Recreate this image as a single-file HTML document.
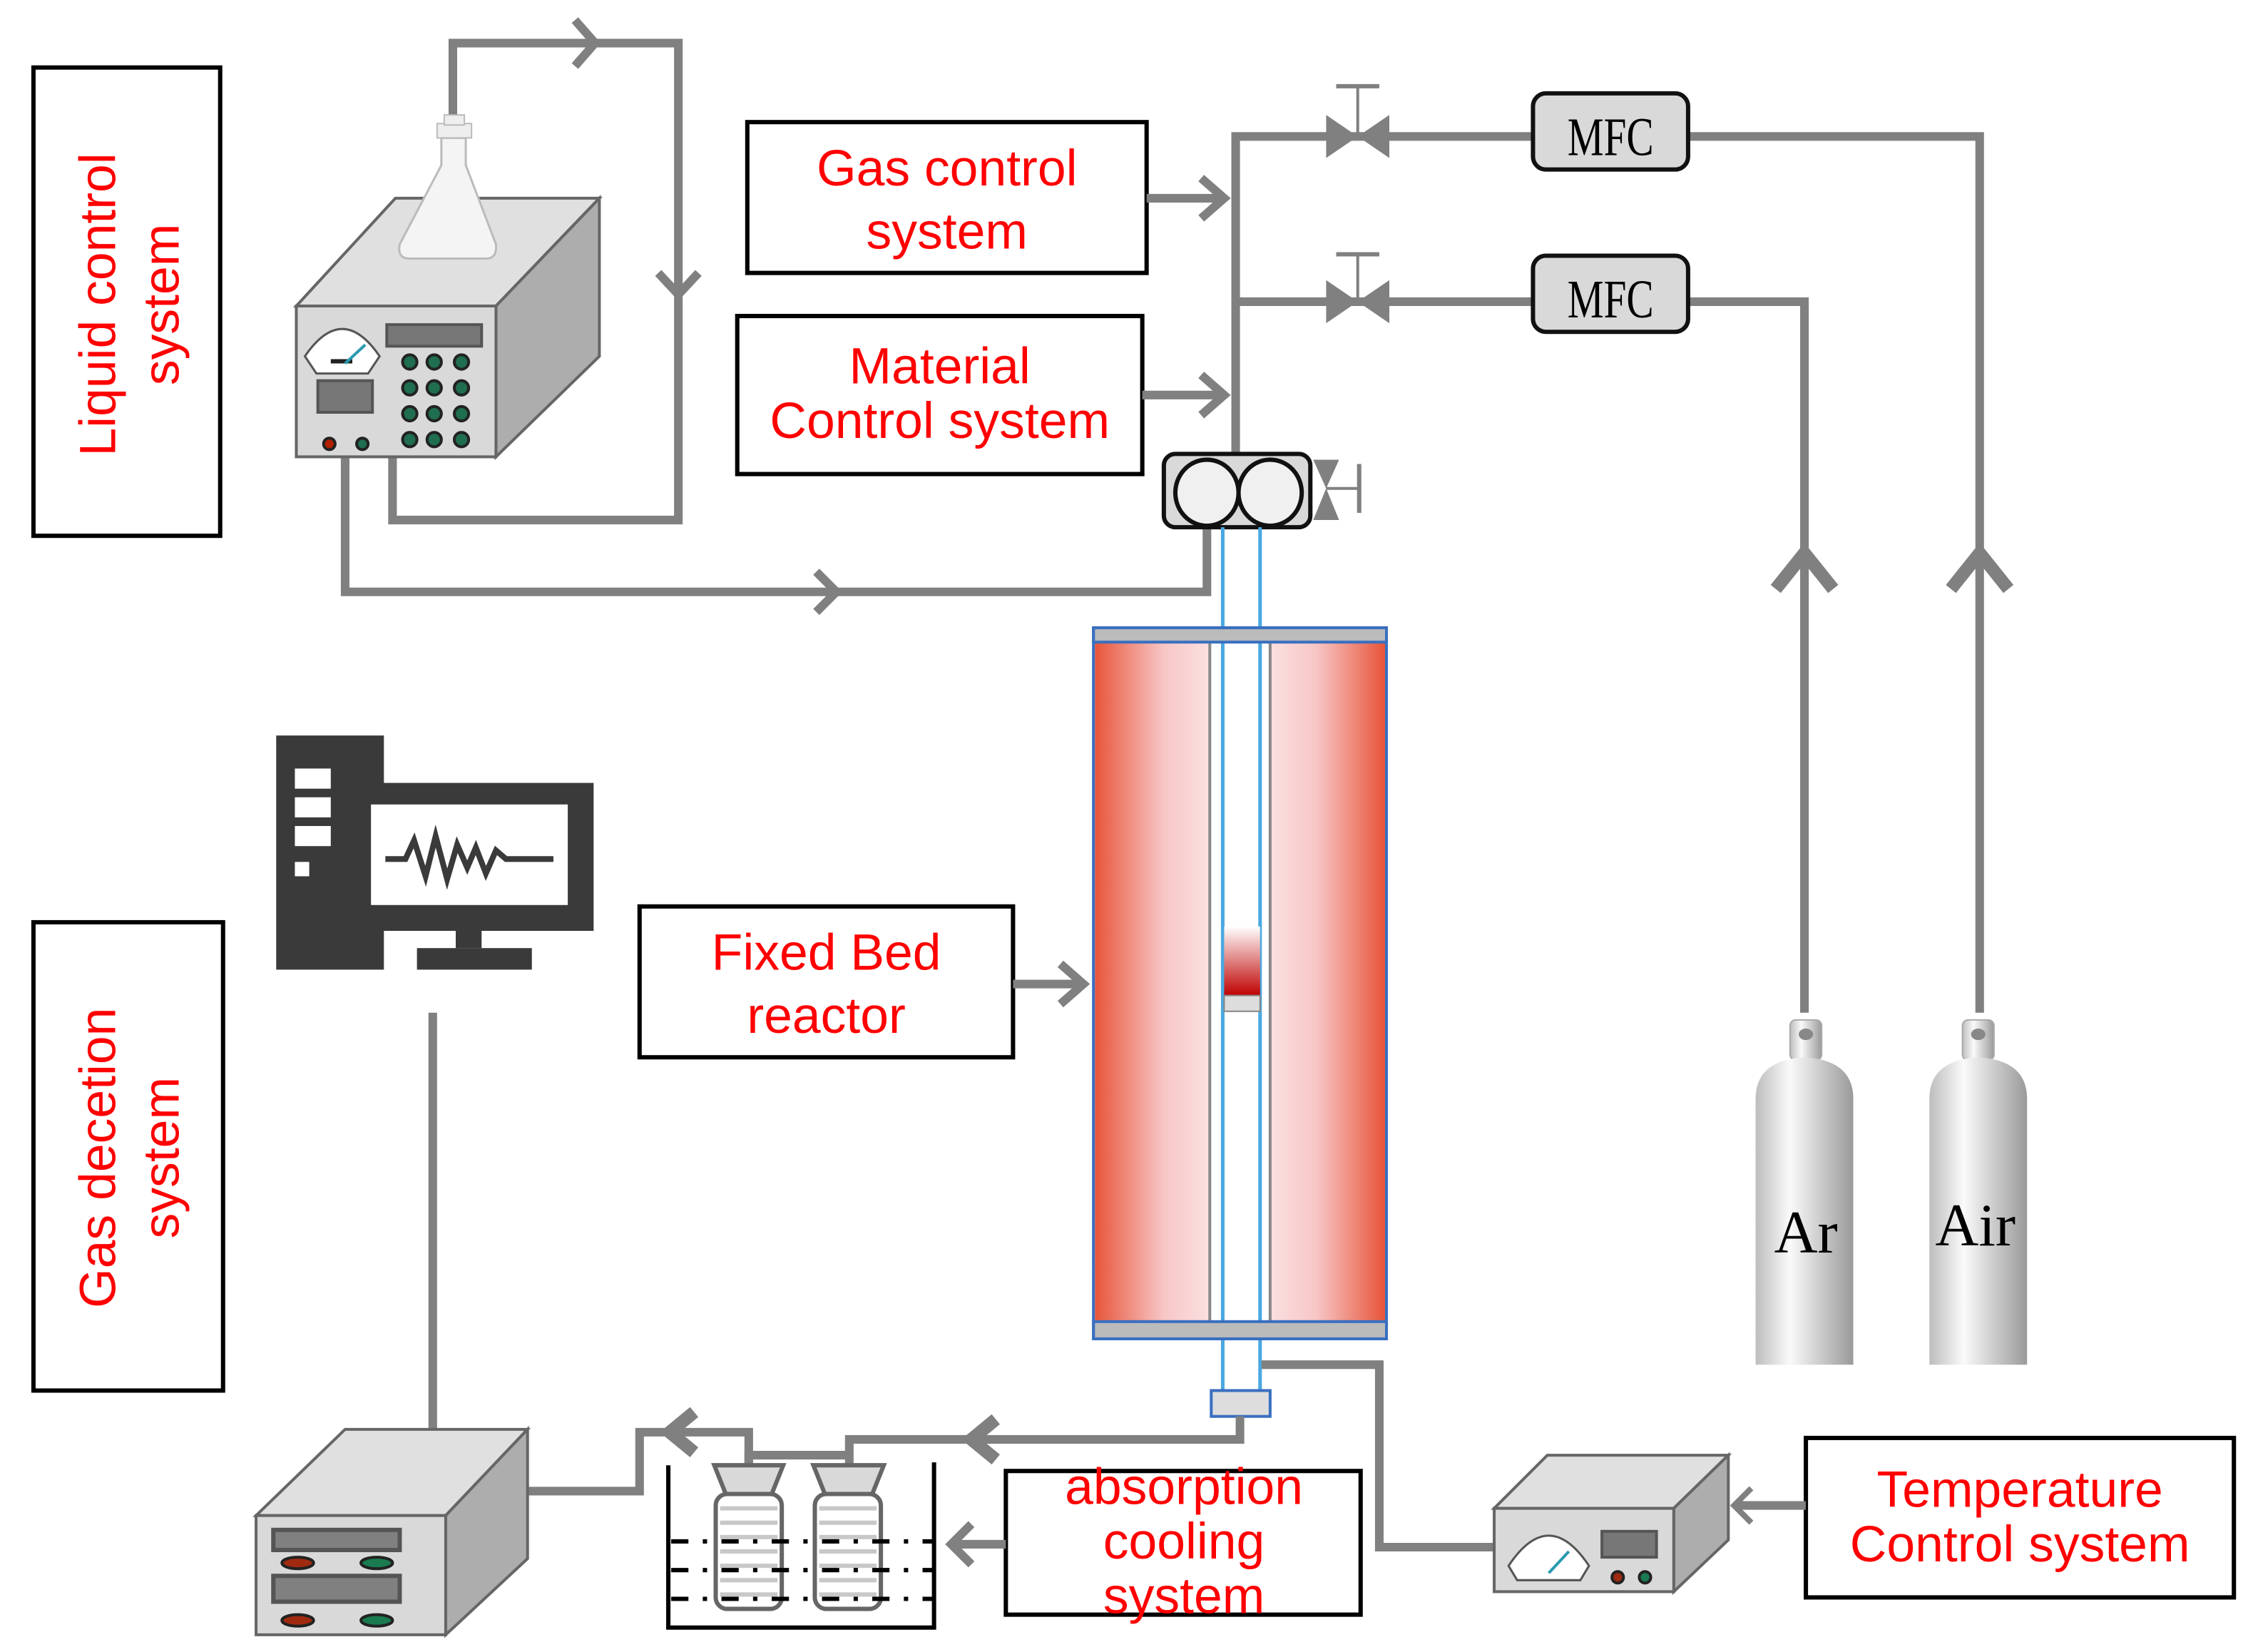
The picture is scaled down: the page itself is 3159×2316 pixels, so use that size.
<!DOCTYPE html>
<html><head><meta charset="utf-8"><style>
html,body{margin:0;padding:0;background:#fff;}
svg{display:block;}
.t{font-family:"Liberation Sans",sans-serif;fill:#ff0000;font-size:35.5px;text-anchor:middle;}
.p{stroke:#808080;stroke-width:6;fill:none;}
.b{fill:#fff;stroke:#000;stroke-width:3;}
</style></head><body>
<svg width="3159" height="2316" viewBox="0 0 1568 1150" xmlns="http://www.w3.org/2000/svg">
<defs>
<linearGradient id="rl" x1="0" x2="1"><stop offset="0" stop-color="#e8553a"/><stop offset="0.6" stop-color="#f7c6c6"/><stop offset="1" stop-color="#fbe0e0"/></linearGradient>
<linearGradient id="rr" x1="0" x2="1"><stop offset="0" stop-color="#fbe0e0"/><stop offset="0.4" stop-color="#f7c6c6"/><stop offset="1" stop-color="#e8553a"/></linearGradient>
<linearGradient id="cyl" x1="0" x2="1"><stop offset="0" stop-color="#bdbdbd"/><stop offset="0.35" stop-color="#fafafa"/><stop offset="1" stop-color="#9a9a9a"/></linearGradient>
<linearGradient id="cat" x1="0" y1="0" x2="0" y2="1"><stop offset="0" stop-color="#fff"/><stop offset="1" stop-color="#c00000"/></linearGradient>
</defs>

<rect class="b" x="23" y="47" width="130" height="326"/>
<text class="t" transform="translate(80,212) rotate(-90)">Liquid control</text>
<text class="t" transform="translate(124,212) rotate(-90)">system</text>
<rect class="b" x="23" y="642" width="132" height="326"/>
<text class="t" transform="translate(80,806) rotate(-90)">Gas decetion</text>
<text class="t" transform="translate(124,806) rotate(-90)">system</text>
<rect class="b" x="520" y="85" width="278" height="105"/>
<text class="t" x="659" y="129">Gas control</text>
<text class="t" x="659" y="173">system</text>
<rect class="b" x="513" y="220" width="282" height="110"/>
<text class="t" x="654" y="267">Material</text>
<text class="t" x="654" y="305">Control system</text>
<rect class="b" x="445" y="631" width="260" height="105"/>
<text class="t" x="575" y="675">Fixed Bed</text>
<text class="t" x="575" y="719">reactor</text>
<rect class="b" x="700" y="1024" width="247" height="100"/>
<text class="t" x="824" y="1047">absorption</text>
<text class="t" x="824" y="1085">cooling</text>
<text class="t" x="824" y="1123">system</text>
<rect class="b" x="1257" y="1001" width="298" height="111"/>
<text class="t" x="1406" y="1049">Temperature</text>
<text class="t" x="1406" y="1087">Control system</text>

<polyline class="p" points="315,82 315,30 472,30 472,362 273,362 273,316"/>
<polyline class="p" points="240,316 240,412 840,412 840,368"/>
<polyline class="p" points="400,14 414,30 400,46"/>
<polyline class="p" points="458,190 472,205 486,190"/>
<polyline class="p" points="568,398 582,412 568,426"/>

<polygon points="206,213 275,138 417,138 345,213" fill="#e0e0e0" stroke="#666" stroke-width="2"/>
<polygon points="345,213 417,138 417,248 345,318" fill="#adadad" stroke="#666" stroke-width="2"/>
<rect x="206" y="213" width="139" height="105" fill="#d9d9d9" stroke="#666" stroke-width="2"/>
<path d="M212,248 Q238,210 264,248 L256,260 L220,260 Z" fill="#fff" stroke="#555" stroke-width="1.5"/>
<rect x="230" y="250" width="15" height="3" fill="#222"/>
<line x1="240" y1="253" x2="254" y2="240" stroke="#2a9ab0" stroke-width="2"/>
<rect x="269" y="226" width="66" height="15" fill="#777" stroke="#555" stroke-width="2"/>
<rect x="221" y="265" width="38" height="22" fill="#777" stroke="#555" stroke-width="2"/>
<g fill="#1f6e4f" stroke="#222" stroke-width="2">
<circle cx="285" cy="252" r="5"/><circle cx="302" cy="252" r="5"/><circle cx="321" cy="252" r="5"/>
<circle cx="285" cy="270" r="5"/><circle cx="302" cy="270" r="5"/><circle cx="321" cy="270" r="5"/>
<circle cx="285" cy="288" r="5"/><circle cx="302" cy="288" r="5"/><circle cx="321" cy="288" r="5"/>
<circle cx="285" cy="306" r="5"/><circle cx="302" cy="306" r="5"/><circle cx="321" cy="306" r="5"/>
<circle cx="252" cy="309" r="4"/><circle cx="229" cy="309" r="4" fill="#b02000"/></g>
<path d="M307,96 L324,96 L324,115 L345,170 Q346,180 338,180 L285,180 Q276,180 278,170 L307,115 Z" fill="#f4f4f4" stroke="#bbb" stroke-width="1.5"/>
<rect x="304" y="86" width="24" height="10" fill="#eee" stroke="#bbb"/>
<rect x="309" y="80" width="14" height="7" fill="#eee" stroke="#bbb"/>

<polyline class="p" points="860,318 860,95 1067,95"/>
<polyline class="p" points="860,210 1067,210"/>
<polyline class="p" points="1175,95 1378,95 1378,705"/>
<polyline class="p" points="1175,210 1256,210 1256,705"/>
<polygon points="923,80 945,95 923,110" fill="#808080"/><polygon points="967,80 945,95 967,110" fill="#808080"/>
<line x1="945" y1="95" x2="945" y2="60" stroke="#808080" stroke-width="2"/><line x1="930" y1="60" x2="960" y2="60" stroke="#808080" stroke-width="3"/>
<polygon points="923,195 945,210 923,225" fill="#808080"/><polygon points="967,195 945,210 967,225" fill="#808080"/>
<line x1="945" y1="210" x2="945" y2="177" stroke="#808080" stroke-width="2"/><line x1="930" y1="177" x2="960" y2="177" stroke="#808080" stroke-width="3"/>
<rect x="1067" y="65" width="108" height="53" rx="9" fill="#d9d9d9" stroke="#111" stroke-width="3"/>
<text x="1091" y="108" font-family="Liberation Serif,serif" font-size="38" textLength="60" lengthAdjust="spacingAndGlyphs">MFC</text>
<rect x="1067" y="178" width="108" height="53" rx="9" fill="#d9d9d9" stroke="#111" stroke-width="3"/>
<text x="1091" y="221" font-family="Liberation Serif,serif" font-size="38" textLength="60" lengthAdjust="spacingAndGlyphs">MFC</text>
<polyline points="1236,410 1256,385 1276,410" fill="none" stroke="#808080" stroke-width="9"/>
<polyline points="1358,410 1378,385 1398,410" fill="none" stroke="#808080" stroke-width="9"/>

<line class="p" x1="798" y1="138" x2="852" y2="138"/><polyline class="p" points="836,124 852,138 836,152"/>
<line class="p" x1="795" y1="275" x2="852" y2="275"/><polyline class="p" points="836,261 852,275 836,289"/>
<line class="p" x1="705" y1="685" x2="754" y2="685"/><polyline class="p" points="738,671 754,685 738,699"/>

<rect x="810" y="316" width="102" height="51" rx="8" fill="#d9d9d9" stroke="#111" stroke-width="3"/>
<ellipse cx="840" cy="343" rx="22" ry="23" fill="#f0f0f0" stroke="#111" stroke-width="3"/>
<ellipse cx="884" cy="343" rx="22" ry="23" fill="#f0f0f0" stroke="#111" stroke-width="3"/>
<polygon points="914,320 932,320 923,340" fill="#808080"/><polygon points="914,362 932,362 923,340" fill="#808080"/>
<line x1="923" y1="340" x2="946" y2="340" stroke="#808080" stroke-width="2"/><line x1="946" y1="323" x2="946" y2="357" stroke="#808080" stroke-width="3"/>

<line x1="851" y1="367" x2="851" y2="970" stroke="#4aa8e0" stroke-width="2.5"/>
<line x1="877" y1="367" x2="877" y2="970" stroke="#4aa8e0" stroke-width="2.5"/>
<rect x="762" y="447" width="80" height="473" fill="url(#rl)"/>
<rect x="884" y="447" width="80" height="473" fill="url(#rr)"/>
<line x1="842" y1="447" x2="842" y2="920" stroke="#888" stroke-width="2"/>
<line x1="884" y1="447" x2="884" y2="920" stroke="#888" stroke-width="2"/>
<rect x="852" y="645" width="25" height="48" fill="url(#cat)"/>
<rect x="852" y="693" width="25" height="11" fill="#ddd" stroke="#888"/>
<rect x="761" y="437" width="204" height="10" fill="#bbb" stroke="#3a6fc0" stroke-width="2"/>
<rect x="761" y="920" width="204" height="12" fill="#bbb" stroke="#3a6fc0" stroke-width="2"/>
<rect x="761" y="437" width="204" height="495" fill="none" stroke="#3a6fc0" stroke-width="2"/>
<rect x="843" y="968" width="41" height="18" fill="#ddd" stroke="#3a6fc0" stroke-width="2"/>

<polyline class="p" points="863,986 863,1002 591,1002 591,1020"/>
<polyline class="p" points="521,1020 521,1013 591,1013"/>
<polyline class="p" points="521,1020 521,997 445,997 445,1038 367,1038"/>
<polyline points="693,988 676,1002 693,1016" fill="none" stroke="#808080" stroke-width="9"/>
<polyline points="483,983 466,997 483,1011" fill="none" stroke="#808080" stroke-width="9"/>
<polyline points="878,950 960,950 960,1077 1040,1077" class="p"/>
<line class="p" x1="700" y1="1075" x2="662" y2="1075"/><polyline class="p" points="676,1061 662,1075 676,1089"/>
<line class="p" x1="1257" y1="1048" x2="1207" y2="1048"/><polyline class="p" points="1219,1036 1207,1048 1219,1060" style="stroke-width:4"/>

<g>
<path d="M497,1020 L545,1020 L537,1040 L505,1040 Z" fill="#d9d9d9" stroke="#666" stroke-width="3"/>
<rect x="498" y="1040" width="46" height="80" rx="8" fill="#fff" stroke="#666" stroke-width="3"/>
<path d="M566,1020 L615,1020 L607,1040 L574,1040 Z" fill="#d9d9d9" stroke="#666" stroke-width="3"/>
<rect x="567" y="1040" width="46" height="80" rx="8" fill="#fff" stroke="#666" stroke-width="3"/>
<g stroke="#c8c8c8" stroke-width="3">
<line x1="501" y1="1050" x2="541" y2="1050"/><line x1="501" y1="1060" x2="541" y2="1060"/><line x1="501" y1="1070" x2="541" y2="1070"/><line x1="501" y1="1080" x2="541" y2="1080"/><line x1="501" y1="1090" x2="541" y2="1090"/><line x1="501" y1="1100" x2="541" y2="1100"/><line x1="501" y1="1110" x2="541" y2="1110"/>
<line x1="570" y1="1050" x2="610" y2="1050"/><line x1="570" y1="1060" x2="610" y2="1060"/><line x1="570" y1="1070" x2="610" y2="1070"/><line x1="570" y1="1080" x2="610" y2="1080"/><line x1="570" y1="1090" x2="610" y2="1090"/><line x1="570" y1="1100" x2="610" y2="1100"/><line x1="570" y1="1110" x2="610" y2="1110"/>
</g>
<g stroke="#000" stroke-width="3" stroke-dasharray="12,10,3,10">
<line x1="467" y1="1073" x2="650" y2="1073"/><line x1="467" y1="1093" x2="650" y2="1093"/><line x1="467" y1="1113" x2="650" y2="1113"/></g>
<polyline points="465,1020 465,1133 650,1133 650,1018" fill="none" stroke="#000" stroke-width="3"/>
</g>

<line class="p" x1="301" y1="705" x2="301" y2="995"/>
<rect x="192" y="512" width="75" height="163" fill="#3a3a3a"/>
<rect x="205" y="535" width="25" height="14" fill="#fff"/><rect x="205" y="555" width="25" height="14" fill="#fff"/><rect x="205" y="575" width="25" height="14" fill="#fff"/><rect x="205" y="600" width="10" height="10" fill="#fff"/>
<rect x="238" y="545" width="175" height="103" fill="#3a3a3a"/>
<rect x="258" y="560" width="137" height="70" fill="#fff"/>
<rect x="317" y="648" width="18" height="12" fill="#3a3a3a"/><rect x="290" y="660" width="80" height="15" fill="#3a3a3a"/>
<polyline points="268,598 282,598 288,585 296,610 303,582 311,612 318,588 325,604 331,590 338,608 345,592 352,598 385,598" fill="none" stroke="#3a3a3a" stroke-width="4"/>

<polygon points="178,1055 240,995 367,995 310,1055" fill="#e0e0e0" stroke="#666" stroke-width="2"/>
<polygon points="310,1055 367,995 367,1085 310,1138" fill="#adadad" stroke="#666" stroke-width="2"/>
<rect x="178" y="1055" width="132" height="83" fill="#d9d9d9" stroke="#666" stroke-width="2"/>
<rect x="190" y="1065" width="88" height="14" fill="#808080" stroke="#555" stroke-width="3"/>
<rect x="190" y="1097" width="88" height="18" fill="#808080" stroke="#555" stroke-width="3"/>
<g stroke="#222" stroke-width="2"><ellipse cx="207" cy="1088" rx="11" ry="4" fill="#a02a10"/><ellipse cx="262" cy="1088" rx="11" ry="4" fill="#1a7a50"/>
<ellipse cx="207" cy="1128" rx="11" ry="4" fill="#a02a10"/><ellipse cx="262" cy="1128" rx="11" ry="4" fill="#1a7a50"/></g>

<polygon points="1040,1050 1077,1013 1203,1013 1165,1050" fill="#e0e0e0" stroke="#666" stroke-width="2"/>
<polygon points="1165,1050 1203,1013 1203,1072 1165,1108" fill="#adadad" stroke="#666" stroke-width="2"/>
<rect x="1040" y="1050" width="125" height="58" fill="#d9d9d9" stroke="#666" stroke-width="2"/>
<path d="M1050,1090 Q1078,1048 1106,1090 L1100,1100 L1056,1100 Z" fill="#fff" stroke="#555" stroke-width="1.5"/>
<line x1="1078" y1="1095" x2="1092" y2="1080" stroke="#2a9ab0" stroke-width="2"/>
<rect x="1115" y="1066" width="38" height="18" fill="#777" stroke="#555" stroke-width="2"/>
<g stroke="#222" stroke-width="2"><circle cx="1126" cy="1098" r="4" fill="#a02a10"/><circle cx="1145" cy="1098" r="4" fill="#1a7a50"/></g>

<g>
<rect x="1246" y="710" width="22" height="28" rx="4" fill="url(#cyl)" stroke="#aaa"/>
<ellipse cx="1257" cy="720" rx="5" ry="4" fill="#888"/>
<path d="M1222,950 L1222,765 Q1222,738 1256,736 Q1290,738 1290,765 L1290,950 Z" fill="url(#cyl)"/>
<text x="1257" y="872" font-family="Liberation Serif,serif" font-size="42" text-anchor="middle">Ar</text>
<rect x="1366" y="710" width="22" height="28" rx="4" fill="url(#cyl)" stroke="#aaa"/>
<ellipse cx="1377" cy="720" rx="5" ry="4" fill="#888"/>
<path d="M1343,950 L1343,765 Q1343,738 1377,736 Q1411,738 1411,765 L1411,950 Z" fill="url(#cyl)"/>
<text x="1375" y="867" font-family="Liberation Serif,serif" font-size="42" text-anchor="middle">Air</text>
</g>
</svg>
</body></html>
